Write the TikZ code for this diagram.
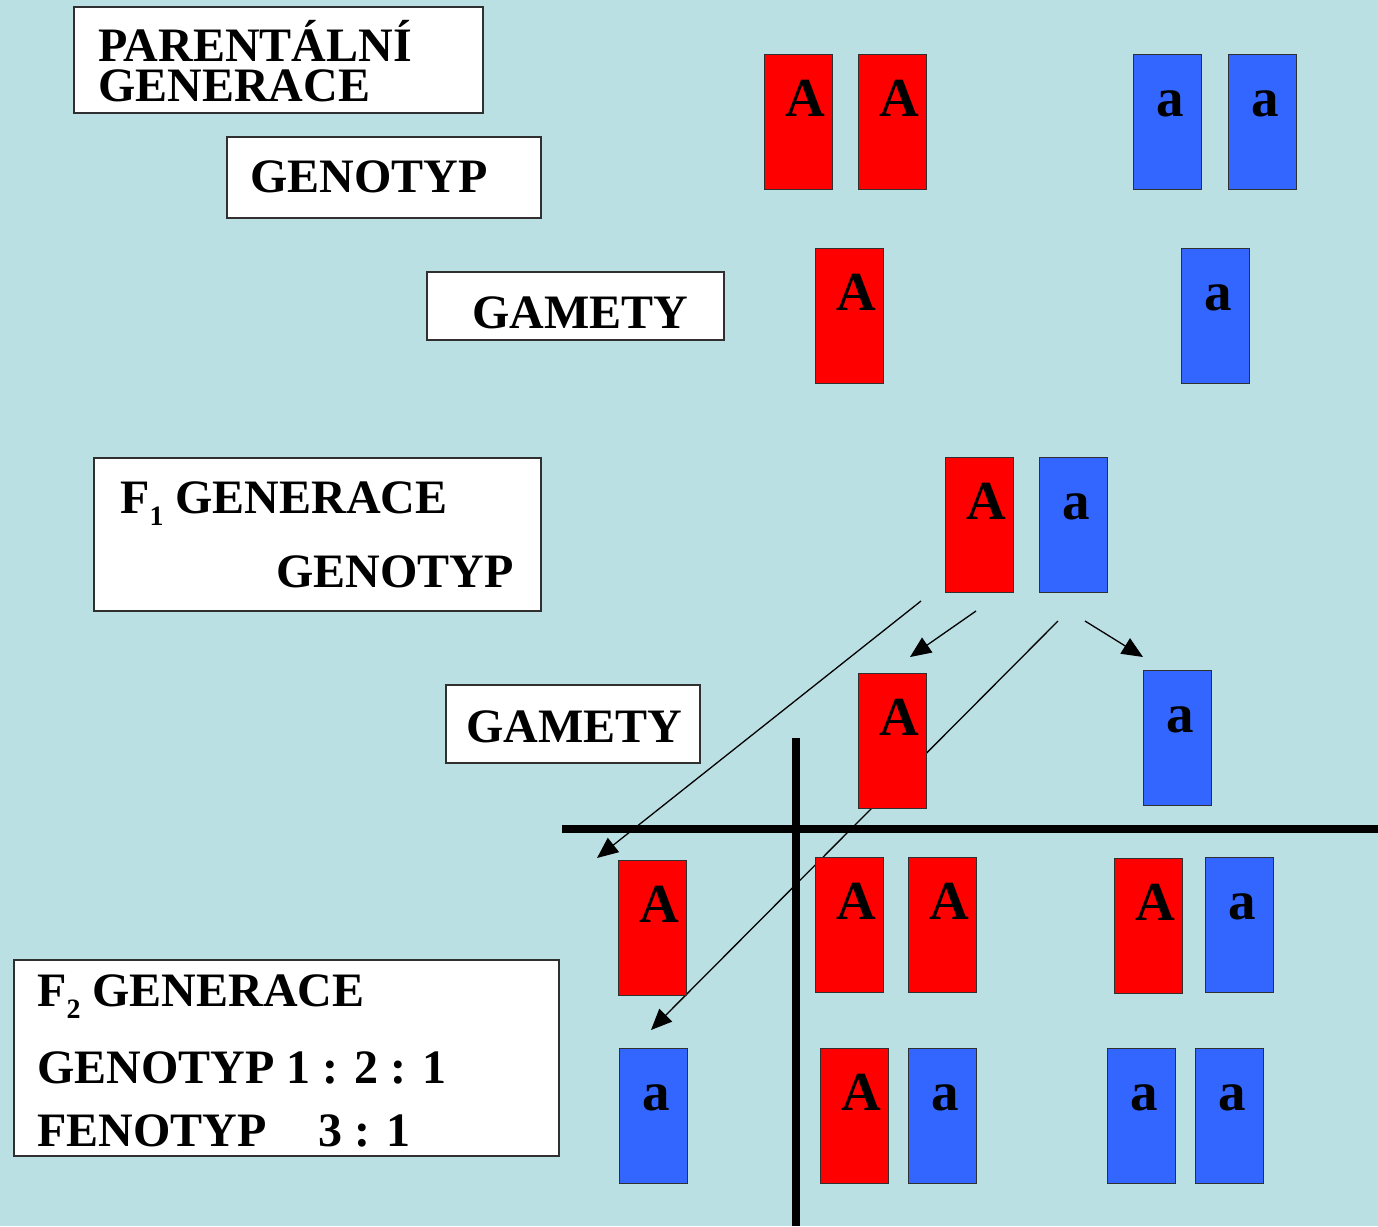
\documentclass[tikz,border=0pt]{standalone}
\usepackage{fontspec}
\setmainfont{Liberation Serif}
\usetikzlibrary{arrows.meta}
\definecolor{bg}{HTML}{BBE0E3}
\definecolor{alleleRed}{HTML}{FF0000}
\definecolor{alleleBlue}{HTML}{3366FF}
\definecolor{edge}{HTML}{303030}

% dominant allele box (red, "A") and recessive allele box (blue, "a")
\newcommand\domallele[3]{%
  \node[dom] (#1) at (#2,#3) {};
  \node[gene] (#1-l) at (#2+41.5,#3+62) {A};}
\newcommand\recallele[3]{%
  \node[rec] (#1) at (#2,#3) {};
  \node[gene] (#1-l) at (#2+37.5,#3+62) {a};}

\begin{document}
\begin{tikzpicture}[x=1pt,y=-1pt,
  labelbox/.style={draw=edge, line width=1.5pt, fill=white, anchor=north west, inner sep=0pt},
  dom/.style={draw=edge, line width=1.2pt, fill=alleleRed, minimum width=68pt,
              minimum height=135pt, anchor=north west, inner sep=0pt},
  rec/.style={dom, fill=alleleBlue},
  gene/.style={font=\fontsize{55}{55}\selectfont\bfseries, anchor=base, inner sep=0pt},
  caption/.style={font=\fontsize{48}{40}\selectfont\bfseries, anchor=base west, inner sep=0pt},
  link/.style={line width=1.3pt, -{Triangle[length=21pt,width=18pt]}},
  punnett/.style={line width=8pt}]

\fill[bg] (0,0) rectangle (1378,1226);
\useasboundingbox (0,0) rectangle (1378,1226);

% ---- caption boxes ----
\node[labelbox, minimum width=409pt, minimum height=106pt] (pBox) at (73,6) {};
\node[caption, align=left, anchor=north west] (pT) at (98,20)
  {PARENTÁLNÍ\\GENERACE};

\node[labelbox, minimum width=314pt, minimum height=81pt] (gBox) at (226,136) {};
\node[caption] (gT) at (250,192) {GENOTYP};

\node[labelbox, minimum width=297pt, minimum height=68pt] (mBox) at (426,271) {};
\node[caption] (mT) at (472,328) {GAMETY};

\node[labelbox, minimum width=447pt, minimum height=153pt] (f1Box) at (93,457) {};
\node[caption] (f1T) at (120,513) {F\raisebox{-12pt}{\fontsize{28}{28}\selectfont 1} GENERACE};
\node[caption] (f1G) at (276,587) {GENOTYP};

\node[labelbox, minimum width=254pt, minimum height=78pt] (m2Box) at (445,684) {};
\node[caption] (m2T) at (466,742) {GAMETY};

\node[labelbox, minimum width=545pt, minimum height=196pt] (f2Box) at (13,959) {};
\node[caption] (f2T) at (37,1006) {F\raisebox{-12pt}{\fontsize{28}{28}\selectfont 2} GENERACE};
\node[caption] (f2G) at (37,1083) {GENOTYP 1 : 2 : 1};
\node[caption] (f2F) at (37,1146) {FENOTYP\hspace{52pt}3 : 1};

% ---- arrows from the F1 pair to the gametes ----
\coordinate (s1) at (921,601); \coordinate (e1) at (597,858);
\coordinate (s2) at (976,611); \coordinate (e2) at (910,657);
\coordinate (s3) at (1058,621); \coordinate (e3) at (651,1030);
\coordinate (s4) at (1085,621); \coordinate (e4) at (1143,657);
\draw[link] (s1) -- (e1);
\draw[link] (s2) -- (e2);
\draw[link] (s3) -- (e3);
\draw[link] (s4) -- (e4);

% ---- Punnett cross ----
\coordinate (vTop) at (796,738); \coordinate (vBot) at (796,1226);
\coordinate (hL) at (562,829); \coordinate (hR) at (1378,829);
\draw[punnett] (vTop) -- (vBot);
\draw[punnett] (hL) -- (hR);

% ---- parental genotypes ----
\domallele{pA1}{764}{54}
\domallele{pA2}{858}{54}
\recallele{pa1}{1133}{54}
\recallele{pa2}{1228}{54}

% ---- parental gametes ----
\domallele{gA}{815}{248}
\recallele{ga}{1181}{248}

% ---- F1 genotype ----
\domallele{f1A}{945}{457}
\recallele{f1a}{1039}{457}

% ---- F1 gametes ----
\domallele{g2A}{858}{673}
\recallele{g2a}{1143}{670}

% ---- F2 column heads ----
\domallele{cA}{618}{860}
\recallele{ca}{619}{1048}

% ---- F2 offspring ----
\domallele{o11}{815}{857}
\domallele{o12}{908}{857}
\domallele{o21}{1114}{858}
\recallele{o22}{1205}{857}
\domallele{o31}{820}{1048}
\recallele{o32}{908}{1048}
\recallele{o41}{1107}{1048}
\recallele{o42}{1195}{1048}

\end{tikzpicture}
\end{document}
